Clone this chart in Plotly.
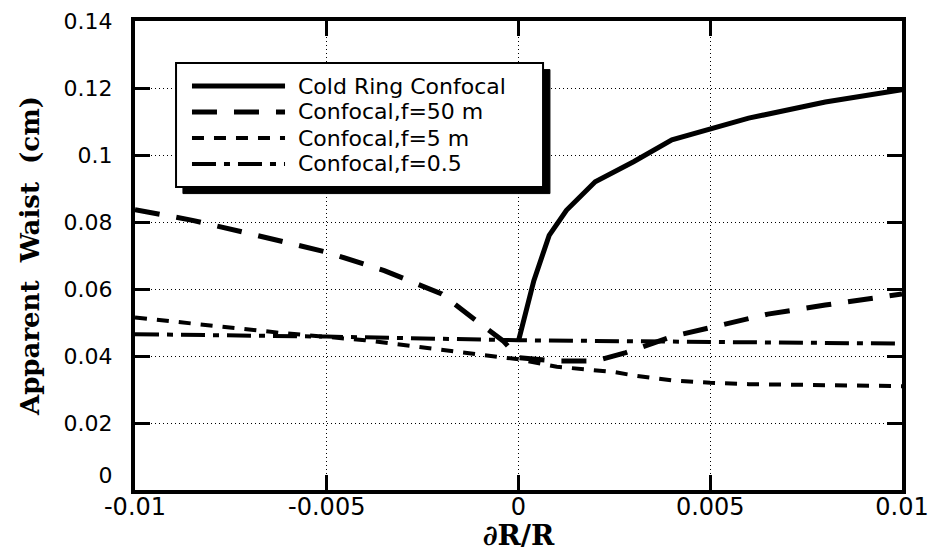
import plotly.graph_objects as go

# ---- data ----
cold_x = [0.0, 0.0004, 0.0008, 0.00125, 0.002, 0.003, 0.004, 0.006, 0.008, 0.01]
cold_y = [0.0445, 0.0625, 0.076, 0.0835, 0.092, 0.098, 0.1045, 0.111, 0.1158, 0.1195]

f50_x = [-0.01, -0.0085, -0.007, -0.005, -0.0035, -0.002, -0.0011, -0.0004, 0.0, 0.001,
         0.002, 0.0028, 0.004, 0.005, 0.0065, 0.008, 0.01]
f50_y = [0.0837, 0.0805, 0.0765, 0.071, 0.0655, 0.0585, 0.0505, 0.0445, 0.0395, 0.0385,
         0.0385, 0.041, 0.0458, 0.0485, 0.0525, 0.0552, 0.0585]

f5_x = [-0.01, -0.0084, -0.0062, -0.004, -0.0023, -0.001, 0.0, 0.001, 0.0025, 0.003,
        0.004, 0.005, 0.006, 0.01]
f5_y = [0.0515, 0.0496, 0.0469, 0.0447, 0.0422, 0.0402, 0.039, 0.0368, 0.0352, 0.0342,
        0.0327, 0.032, 0.0316, 0.031]

f05_x = [-0.01, -0.005, 0.0, 0.005, 0.01]
f05_y = [0.0465, 0.0458, 0.0447, 0.0441, 0.0437]

series_names = ["Cold Ring Confocal", "Confocal,f=50 m", "Confocal,f=5 m", "Confocal,f=0.5"]

x_tickvals = [-0.01, -0.005, 0, 0.005, 0.01]
x_ticktext = ["-0.01", "-0.005", "0", "0.005", "0.01"]
y_tickvals = [0, 0.02, 0.04, 0.06, 0.08, 0.1, 0.12, 0.14]
y_ticktext = ["0<br> ", "0.02", "0.04", "0.06", "0.08", "0.1", "0.12", "0.14"]

# ---- styles ----
styles = [
    dict(width=5, dash="solid"),
    dict(width=5, dash="25px,17px"),
    dict(width=4, dash="12px,10px"),
    dict(width=4, dash="24px,8px,6px,8px"),
]
series = [(cold_x, cold_y), (f50_x, f50_y), (f5_x, f5_y), (f05_x, f05_y)]

fig = go.Figure()
for (xs, ys), name, st in zip(series, series_names, styles):
    fig.add_trace(go.Scatter(x=xs, y=ys, mode="lines", name=name,
                             line=dict(color="black", width=st["width"], dash=st["dash"]),
                             showlegend=False))

# ---- manual legend box with drop shadow ----
box_x0, box_x1, box_y0, box_y1 = 0.0535, 0.532, 0.646, 0.9104
shadow_dx, shadow_dy = 0.009, 0.014
shapes = [
    dict(type="rect", xref="paper", yref="paper",
         x0=box_x0 + shadow_dx, x1=box_x1 + shadow_dx, y0=box_y0 - shadow_dy, y1=box_y1 - shadow_dy,
         fillcolor="black", line=dict(color="black", width=1), layer="above"),
    dict(type="rect", xref="paper", yref="paper",
         x0=box_x0, x1=box_x1, y0=box_y0, y1=box_y1,
         fillcolor="white", line=dict(color="black", width=2), layer="above"),
]
row_y = [0.8614, 0.8060, 0.7505, 0.6951]
annotations = []
for ry, name, st in zip(row_y, series_names, styles):
    shapes.append(dict(type="line", xref="paper", yref="paper",
                       x0=0.0743, x1=0.1956, y0=ry, y1=ry, layer="above",
                       line=dict(color="black", width=st["width"], dash=st["dash"])))
    annotations.append(dict(xref="paper", yref="paper", x=0.2105, y=ry,
                            xanchor="left", yanchor="middle", showarrow=False,
                            text=name, font=dict(family="DejaVu Sans", size=22, color="black")))

fig.update_layout(
    width=933, height=552,
    margin=dict(l=135, r=31, t=21, b=62),
    paper_bgcolor="white", plot_bgcolor="white",
    shapes=shapes, annotations=annotations,
    showlegend=False,
)
fig.update_xaxes(
    range=[-0.01, 0.01], tickvals=x_tickvals, ticktext=x_ticktext, automargin=False,
    showline=True, linecolor="black", linewidth=4, mirror="ticks",
    ticks="inside", ticklen=15, tickwidth=3, tickcolor="black",
    showgrid=True, gridcolor="black", gridwidth=1, griddash="1px,3px",
    zeroline=False, ticklabelstandoff=-8,
    tickfont=dict(family="DejaVu Sans", size=24, color="black"),
    title=dict(text="<b>∂R/R</b>", font=dict(family="DejaVu Serif", size=28, color="black"), standoff=6),
)
fig.update_yaxes(
    range=[0, 0.14], tickvals=y_tickvals, ticktext=y_ticktext, automargin=False,
    showline=True, linecolor="black", linewidth=4, mirror="ticks",
    ticks="inside", ticklen=15, tickwidth=3, tickcolor="black",
    showgrid=True, gridcolor="black", gridwidth=1, griddash="1px,3px",
    zeroline=False, ticklabelstandoff=14,
    tickfont=dict(family="DejaVu Sans", size=22, color="black"),
    title=dict(text="<b>Apparent  Waist  (cm)</b>", font=dict(family="DejaVu Serif", size=26, color="black"), standoff=18),
)

fig.write_html("out.html")
